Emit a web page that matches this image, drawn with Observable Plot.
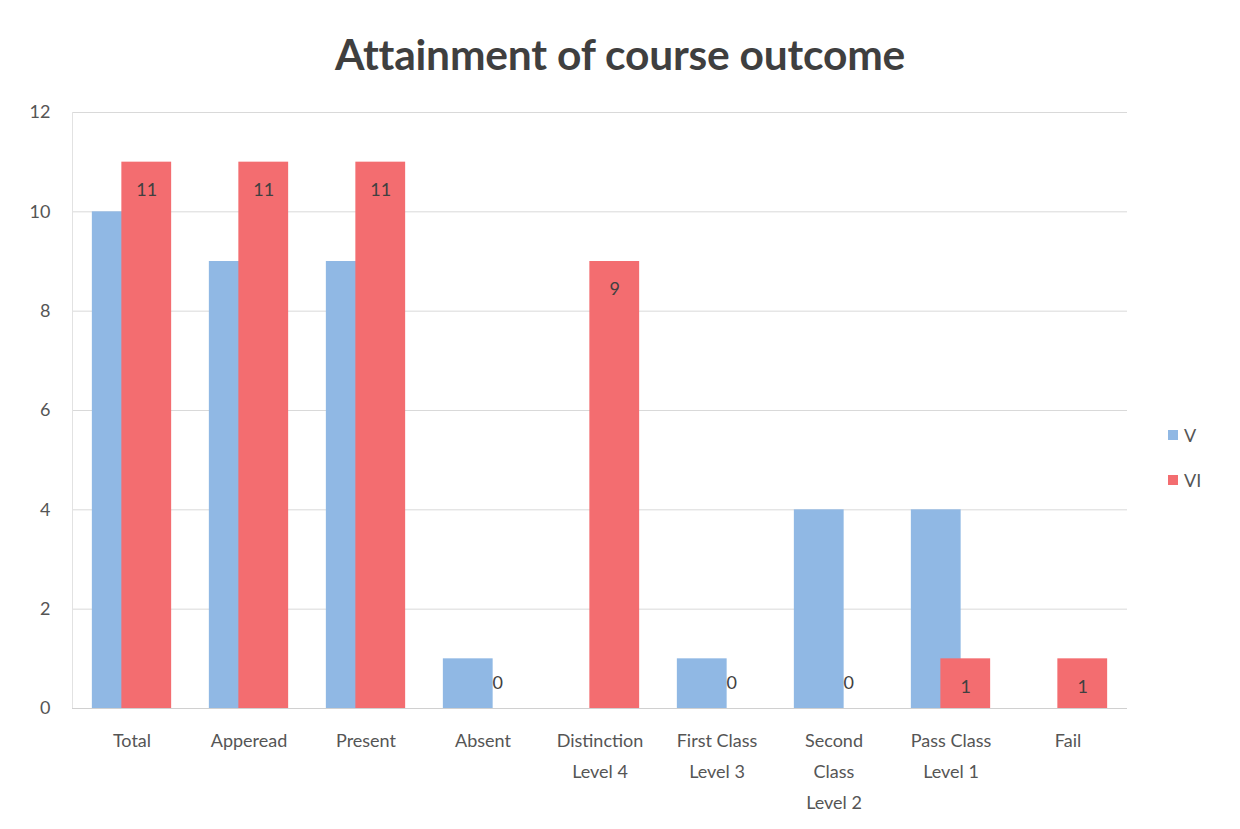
<!DOCTYPE html>
<html>
<head>
<meta charset="utf-8">
<script src="https://cdn.jsdelivr.net/npm/d3@7"></script>
<script src="https://cdn.jsdelivr.net/npm/@observablehq/plot@0.6"></script>
<style>
  body { margin: 0; background: #ffffff; font-family: Lato, "Open Sans", sans-serif; }
  #wrap { position: relative; width: 1240px; height: 829px; overflow: hidden; }
  #title { position: absolute; left: 0; top: 28px; width: 1240px; text-align: center; font-size: 42.5px; font-weight: bold; color: #3f3f3f; letter-spacing: -0.2px; }
  #chart { position: absolute; left: 0; top: 90px; }
  #legend { position: absolute; left: 1168px; top: 423px; font-size: 18px; color: #555; }
  .li { display: flex; align-items: center; height: 24px; margin-bottom: 21px; }
  .sw { width: 10px; height: 10px; margin-right: 6px; }
</style>
</head>
<body>
<div id="wrap">
  <div id="title">Attainment of course outcome</div>
  <div id="chart"></div>
  <div id="legend"></div>
</div>
<script>
const categories = ["Total", "Apperead", "Present", "Absent", "Distinction\nLevel 4", "First Class\nLevel 3", "Second\nClass\nLevel 2", "Pass Class\nLevel 1", "Fail"];
const seriesNames = ["V", "VI"];
const valuesV = [10, 9, 9, 1, 0, 1, 4, 4, 0];
const valuesVI = [11, 11, 11, 0, 9, 0, 0, 1, 1];
const yTicks = [0, 2, 4, 6, 8, 10, 12];
const colors = ["#90b8e4", "#f36d70"];

const rowsV = categories.map((c, i) => ({category: c, series: "V", value: valuesV[i]}));
const rowsVI = categories.map((c, i) => ({category: c, series: "VI", value: valuesVI[i]}));

const inset = 33.6;
const off = 14.75;

const chart = Plot.plot({
  width: 1240,
  height: 739,
  marginTop: 22,
  marginBottom: 121,
  marginLeft: 72,
  marginRight: 113,
  style: {fontFamily: "Lato, 'Open Sans', sans-serif", fontSize: "18px", color: "#595959", background: "transparent"},
  x: {domain: categories, padding: 0, label: null},
  y: {domain: [0, 12], ticks: yTicks, label: null},
  marks: [
    Plot.gridY(yTicks, {stroke: "#d9d9d9", strokeOpacity: 1}),
    Plot.frame({anchor: "left", stroke: "#e2e2e2"}),
    Plot.barY(rowsV, {x: "category", y: "value", fill: colors[0], insetLeft: inset, insetRight: inset, dx: -off}),
    Plot.barY(rowsVI, {x: "category", y: "value", fill: colors[1], insetLeft: inset, insetRight: inset, dx: off}),
    Plot.ruleY([0], {stroke: "#d0d0d0"}),
    Plot.text(rowsVI, {filter: d => d.value > 0, x: "category", y: "value", text: d => String(d.value), dx: off, dy: 28, fill: "#404040", fontSize: 18}),
    Plot.text(rowsVI, {filter: d => d.value === 0, x: "category", y: "value", text: d => String(d.value), dx: off, dy: -25, fill: "#404040", fontSize: 18}),
    Plot.axisY(yTicks, {tickSize: 0, tickPadding: 22, tickFormat: d3.format("d"), label: null, fill: "#555", fontSize: 18}),
    Plot.axisX({tickSize: 0, tickPadding: 17, label: null, lineHeight: 1.72, fill: "#555", fontSize: 18})
  ]
});
document.getElementById("chart").appendChild(chart);

const legend = document.getElementById("legend");
seriesNames.forEach((s, i) => {
  const row = document.createElement("div");
  row.className = "li";
  const sw = document.createElement("div");
  sw.className = "sw";
  sw.style.background = colors[i];
  const t = document.createElement("span");
  t.textContent = s;
  row.appendChild(sw);
  row.appendChild(t);
  legend.appendChild(row);
});
</script>
</body>
</html>
